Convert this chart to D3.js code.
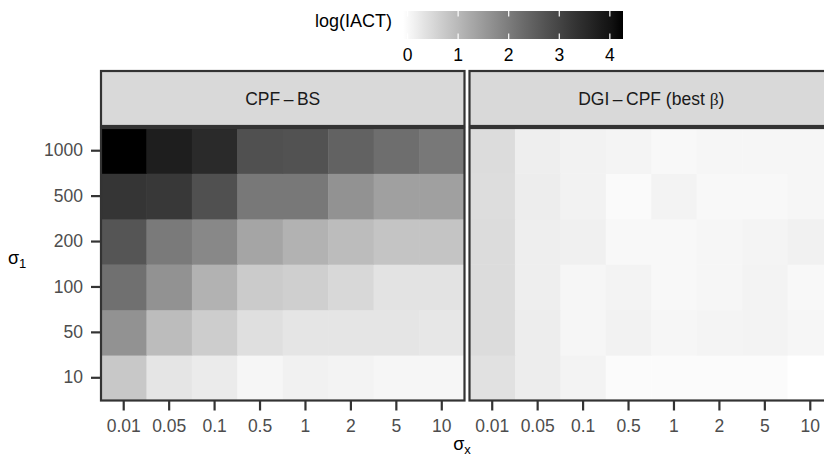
<!DOCTYPE html>
<html><head><meta charset="utf-8">
<script src="https://cdn.jsdelivr.net/npm/d3@7"></script>
<style>html,body{margin:0;padding:0;background:#fff;}svg{display:block;font-family:"Liberation Sans",Arial,sans-serif;}</style>
</head><body>
<svg id="chart" width="824" height="461"></svg>
<script>
// ---- data ----
const sigmaX = ["0.01","0.05","0.1","0.5","1","2","5","10"];
const sigma1 = ["10","50","100","200","500","1000"];
const panels = ["CPF–BS", "DGI–CPF (best β)"];
const legendTicks = [0,1,2,3,4];
// log(IACT), rows follow sigma1, columns follow sigmaX
const cpfBS = [
  [0.76, 0.30, 0.21, 0.04, 0.12, 0.09, 0.05, 0.04],
  [1.62, 0.94, 0.68, 0.39, 0.30, 0.30, 0.31, 0.27],
  [2.21, 1.63, 1.10, 0.70, 0.64, 0.51, 0.34, 0.33],
  [2.69, 2.04, 1.80, 1.32, 1.10, 0.95, 0.82, 0.81],
  [3.30, 3.24, 2.78, 2.06, 2.07, 1.63, 1.40, 1.40],
  [4.26, 3.77, 3.52, 2.78, 2.74, 2.46, 2.24, 2.07]
];
const dgiCPF = [
  [0.36, 0.18, 0.09, -0.03, -0.03, -0.03, -0.03, -0.09],
  [0.45, 0.18, 0.05, 0.10, 0.05, 0.07, 0.09, 0.05],
  [0.45, 0.16, 0.04, 0.09, 0.02, 0.05, 0.09, 0.01],
  [0.45, 0.16, 0.13, 0.02, 0.02, 0.05, 0.07, 0.12],
  [0.42, 0.18, 0.10, -0.01, 0.09, 0.02, 0.02, 0.04],
  [0.45, 0.16, 0.10, 0.07, 0.02, 0.04, 0.04, 0.05]
];
const panelData = [cpfBS, dgiCPF];

// ---- drawing ----
const svg = d3.select("#chart");
const all = panelData.flat(2);
const ext = d3.extent(all);
const color = d3.scaleLinear().domain(ext).range(["#ffffff","#000000"]).interpolate(d3.interpolateLab);

const panelX = [[101, 464.5], [469.5, 833]];
const py0 = 128, py1 = 400.5;
const stripY0 = 71, stripY1 = 126;
const dark = "#333333";
const fs = "17.5px";

const y = d3.scaleBand().domain(sigma1.slice().reverse()).range([py0, py1]).padding(0);

panels.forEach((name, p) => {
  const x = d3.scaleBand().domain(sigmaX).range(panelX[p]).padding(0);
  const g = svg.append("g");
  const cells = [];
  panelData[p].forEach((row, i) => row.forEach((v, j) => cells.push({s1: sigma1[i], sx: sigmaX[j], v})));
  g.selectAll("rect.cell").data(cells).join("rect")
    .attr("class","cell")
    .attr("x", d => x(d.sx)).attr("y", d => y(d.s1))
    .attr("width", x.bandwidth() + 0.5).attr("height", y.bandwidth() + 0.5)
    .attr("fill", d => color(d.v));
  // panel border
  g.append("rect").attr("x", panelX[p][0]).attr("y", py0)
    .attr("width", panelX[p][1]-panelX[p][0]).attr("height", py1-py0)
    .attr("fill","none").attr("stroke",dark).attr("stroke-width",2.2);
  // strip
  g.append("rect").attr("x", panelX[p][0]).attr("y", stripY0)
    .attr("width", panelX[p][1]-panelX[p][0]).attr("height", stripY1-stripY0)
    .attr("fill","#d9d9d9").attr("stroke",dark).attr("stroke-width",2.2);
  const st = g.append("text").attr("x", (panelX[p][0]+panelX[p][1])/2).attr("y", 105)
    .attr("text-anchor","middle").attr("fill","#1a1a1a").style("font-size",fs);
  if (p === 0) {
    st.append("tspan").text("CPF\u2009\u2013\u2009BS");
  } else {
    st.append("tspan").text("DGI\u2009\u2013\u2009CPF (best ");
    st.append("tspan").style("font-family","'Liberation Serif','DejaVu Serif',serif").text("β");
    st.append("tspan").text(")");
  }
  // x axis
  const xa = d3.axisBottom(x).tickSize(10).tickPadding(6);
  const xg = svg.append("g").attr("transform", `translate(0,${py1})`).call(xa);
  xg.select(".domain").remove();
  xg.selectAll(".tick line").attr("stroke",dark).attr("stroke-width",2.2);
  xg.selectAll(".tick text").attr("fill","#4d4d4d").style("font-size",fs)
    .style("font-family","'Liberation Sans',Arial,sans-serif").attr("y", 19).attr("dy","0.71em");
});

// y axis
const ya = d3.axisLeft(y).tickSize(10).tickPadding(8);
const yg = svg.append("g").attr("transform", `translate(${panelX[0][0]},0)`).call(ya);
yg.select(".domain").remove();
yg.selectAll(".tick line").attr("stroke",dark).attr("stroke-width",2.2);
yg.selectAll(".tick text").attr("fill","#4d4d4d").style("font-size",fs)
  .style("font-family","'Liberation Sans',Arial,sans-serif");

// axis titles
const xt = svg.append("text").attr("x", 462).attr("y", 450).attr("text-anchor","middle")
  .attr("fill","#000").style("font-size","18px");
xt.append("tspan").text("σ");
xt.append("tspan").attr("dy", 4).style("font-size","13px").text("x");
const yt = svg.append("text").attr("x", 8).attr("y", 264).attr("fill","#000").style("font-size","18px");
yt.append("tspan").text("σ");
yt.append("tspan").attr("dy", 4).style("font-size","13px").text("1");

// legend
const lx = d3.scaleLinear().domain(ext).range([403, 623]);
const defs = svg.append("defs");
const grad = defs.append("linearGradient").attr("id","lg").attr("x1","0%").attr("x2","100%");
d3.range(0, 1.0001, 0.05).forEach(t => {
  grad.append("stop").attr("offset", (t*100)+"%").attr("stop-color", color(ext[0] + t*(ext[1]-ext[0])));
});
const lgY0 = 11, lgY1 = 39;
svg.append("rect").attr("x", 403).attr("y", lgY0).attr("width", 220).attr("height", lgY1-lgY0).attr("fill","url(#lg)");
const tickLen = (lgY1-lgY0)/5;
svg.selectAll("line.ltop").data(legendTicks).join("line").attr("class","ltop")
  .attr("x1", d => lx(d)).attr("x2", d => lx(d)).attr("y1", lgY0).attr("y2", lgY0+tickLen)
  .attr("stroke","#fff").attr("stroke-width",1.2);
svg.selectAll("line.lbot").data(legendTicks).join("line").attr("class","lbot")
  .attr("x1", d => lx(d)).attr("x2", d => lx(d)).attr("y1", lgY1-tickLen).attr("y2", lgY1)
  .attr("stroke","#fff").attr("stroke-width",1.2);
svg.selectAll("text.llab").data(legendTicks).join("text").attr("class","llab")
  .attr("x", d => lx(d)).attr("y", 61).attr("text-anchor","middle").attr("fill","#000")
  .style("font-size",fs).text(d => d);
svg.append("text").attr("x", 392).attr("y", 27).attr("text-anchor","end").attr("fill","#000")
  .style("font-size","18px").text("log(IACT)");
</script>
</body></html>
